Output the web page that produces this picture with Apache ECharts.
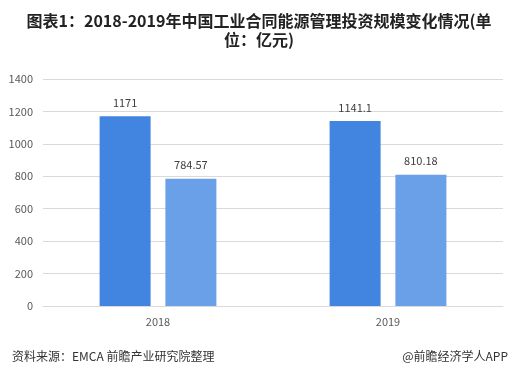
<!DOCTYPE html>
<html><head><meta charset="utf-8">
<script src="https://cdn.jsdelivr.net/npm/echarts@6/dist/echarts.min.js"></script>
<style>html,body{margin:0;padding:0;background:#fff}#c{width:518px;height:373px}</style>
</head><body><div id="c"></div>
<script>
const categories = ['2018', '2019'];
const seriesA = [1171, 1141.1];
const seriesB = [784.57, 810.18];
const yTicks = [0, 200, 400, 600, 800, 1000, 1200, 1400];

const chart = echarts.init(document.getElementById('c'), null, {renderer: 'canvas'});
const font = '"Microsoft YaHei","Noto Sans CJK SC",sans-serif';
const titleStyle = {fontSize: 16, fontWeight: 'bold', color: '#222', fontFamily: font};
chart.setOption({
  animation: false,
  backgroundColor: '#fff',
  title: [{
    text: '图表1：2018-2019年中国工业合同能源管理投资规模变化情况(单',
    left: 'center', top: 8, textStyle: titleStyle
  }, {
    text: '位：亿元)',
    left: 'center', top: 27, textStyle: titleStyle
  }, {
    text: '资料来源：EMCA 前瞻产业研究院整理', left: 7, top: 345,
    textStyle: {fontSize: 12, fontWeight: 'normal', color: '#333', fontFamily: font}
  }, {
    text: '@前瞻经济学人APP', right: 5, top: 345,
    textStyle: {fontSize: 12, fontWeight: 'normal', color: '#333', fontFamily: font}
  }],
  grid: {left: 43, right: 15, top: 79, bottom: 67},
  xAxis: {
    type: 'category', data: categories,
    axisLine: {lineStyle: {color: '#d9d9d9'}}, axisTick: {show: false},
    axisLabel: {color: '#595959', fontSize: 11, margin: 10, fontFamily: font}
  },
  yAxis: {
    type: 'value', min: yTicks[0], max: yTicks[yTicks.length - 1], interval: 200,
    axisLine: {show: false}, axisTick: {show: false},
    splitLine: {lineStyle: {color: '#d9d9d9'}},
    axisLabel: {color: '#595959', fontSize: 11, margin: 10, fontFamily: font, formatter: v => String(v)}
  },
  series: [{
    type: 'bar', data: seriesA, barWidth: 51, barGap: '29%',
    itemStyle: {color: '#4185e0'},
    label: {show: true, position: 'top', distance: 8, color: '#404040', fontSize: 11, fontFamily: font}
  }, {
    type: 'bar', data: seriesB, barWidth: 51,
    itemStyle: {color: '#6aa0e8'},
    label: {show: true, position: 'top', distance: 8, color: '#404040', fontSize: 11, fontFamily: font}
  }]
});
</script></body></html>
